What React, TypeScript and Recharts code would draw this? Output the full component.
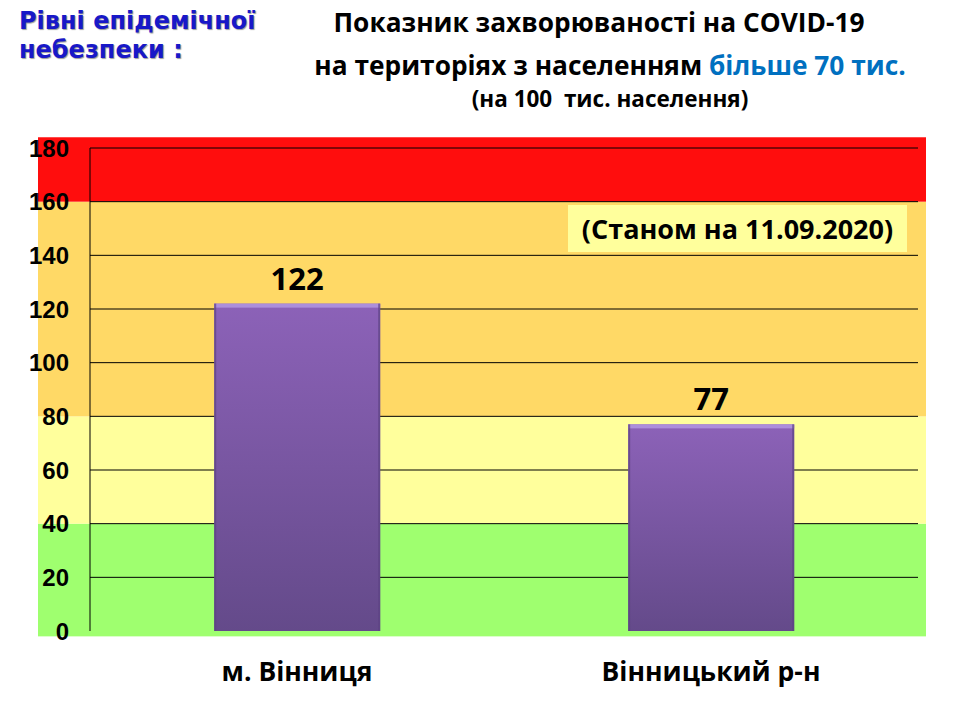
import { BarChart, Bar, XAxis, YAxis, CartesianGrid, ReferenceArea, LabelList } from 'recharts';

const categories = ['м. Вінниця', 'Вінницький р-н'];
const values = [122, 77];
const yTicks = [0, 20, 40, 60, 80, 100, 120, 140, 160, 180];
const gridTicks = [20, 40, 60, 80, 100, 120, 140, 160, 180];

// epidemic danger zones: [from, to, colour]
const zoneFrom = [-2, 40, 80, 160];
const zoneTo = [40, 80, 160, 184];
const zoneColors = ['#9fff6f', '#ffff9c', '#ffd966', '#ff0d0d'];

const data = categories.map((name, i) => ({ name, value: values[i] }));

const FONT = '"Open Sans", Lato, sans-serif';

function ZoneRect(props: any) {
  const { x, y, width, height, fill } = props;
  return <rect x={x - 52} y={y} width={width + 60} height={height} fill={fill} stroke="none" />;
}

function PurpleBar(props: any) {
  const { x, y, width, height } = props;
  if (!height || height <= 0) return null;
  return (
    <g>
      <rect x={x} y={y} width={width} height={height} fill="url(#barGrad)" />
      <rect x={x} y={y} width={width} height={4} fill="#ad8fdb" />
      <rect x={x} y={y} width={2} height={height} fill="#5c4383" opacity={0.7} />
      <rect x={x + width - 2} y={y} width={2} height={height} fill="#5c4383" opacity={0.7} />
    </g>
  );
}

export default function App() {
  return (
    <div style={{ position: 'absolute', left: 0, top: 0, width: 960, height: 720, background: '#fff', fontFamily: FONT }}>
      <div style={{ position: 'absolute', left: 19, top: 7, fontFamily: '"DejaVu Sans", Verdana, sans-serif', fontWeight: 700, fontSize: 24, lineHeight: '29px', color: '#1818c8', textShadow: '1px 1px 1px #999' }}>
        Рівні епідемічної<br />небезпеки :
      </div>
      <div style={{ position: 'absolute', left: 300, width: 620, top: 1, textAlign: 'center', fontWeight: 700, fontSize: 26.3, lineHeight: '43px', color: '#000' }}>
        <div style={{ marginLeft: -22 }}>Показник захворюваності на COVID-19</div>
        <div>на територіях з населенням <span style={{ color: '#0070c0' }}>більше 70 тис.</span></div>
      </div>
      <div style={{ position: 'absolute', left: 300, width: 620, top: 83, textAlign: 'center', fontWeight: 700, fontSize: 22.5, color: '#000' }}>
        (на 100&nbsp; тис. населення)
      </div>
      <BarChart width={960} height={720} data={data} margin={{ top: 148, right: 42, bottom: 59, left: 0 }} barCategoryGap="30%">
        <defs>
          <linearGradient id="barGrad" x1="0" y1="0" x2="0" y2="1">
            <stop offset="0%" stopColor="#8c62b8" />
            <stop offset="100%" stopColor="#644a8a" />
          </linearGradient>
        </defs>
        {zoneColors.map((c, i) => (
          <ReferenceArea key={c} y1={zoneFrom[i]} y2={zoneTo[i]} fill={c} fillOpacity={1} ifOverflow="visible" shape={<ZoneRect />} zIndex={-200} />
        ))}
        <CartesianGrid vertical={false} horizontalValues={gridTicks} stroke="#000" strokeWidth={1} strokeOpacity={1} />
        <XAxis dataKey="name" height={30} axisLine={false} tickLine={false} tickMargin={25} tick={{ fontSize: 26.5, fontWeight: 700, fill: '#000', fontFamily: FONT }} />
        <YAxis domain={[0, 180]} ticks={yTicks} interval={0} width={90} axisLine={{ stroke: '#000' }} tickLine={false} tickSize={0} tickMargin={21}
          tick={{ fontSize: 24, fontWeight: 700, fill: '#000', fontFamily: '"Liberation Sans Narrow", "Arial Narrow", sans-serif' }} />
        <Bar dataKey="value" isAnimationActive={false} shape={<PurpleBar />}>
          <LabelList dataKey="value" position="top" offset={14} fill="#000" fontSize={31} fontWeight={700} fontFamily={FONT} />
        </Bar>
      </BarChart>
      <div style={{ position: 'absolute', left: 568, top: 205, width: 339, height: 47, background: '#ffff9c', fontWeight: 700, fontSize: 27, lineHeight: '47px', textAlign: 'center', color: '#000' }}>
        (Станом на 11.09.2020)
      </div>
    </div>
  );
}
